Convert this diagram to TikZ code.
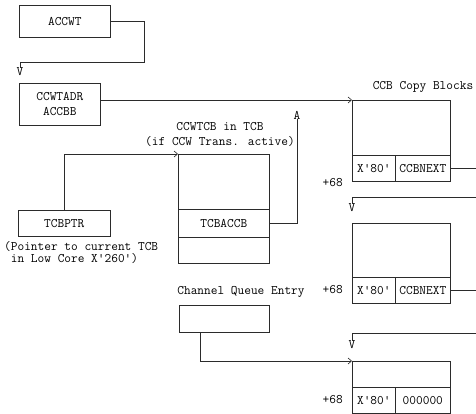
\documentclass[tikz,border=0pt]{standalone}
\usepackage{tikz}
\usetikzlibrary{arrows.meta}
\definecolor{tinta}{HTML}{2B2B2B}
\tikzset{
  every picture/.style={font=\ttfamily\fontsize{13}{15}\selectfont, >={Straight Barb[length=3.5pt,width=6pt]}},
  caja/.style={draw=tinta, line width=0.6pt, inner sep=0pt, anchor=north west, text=black, align=center},
  etiq/.style={inner sep=0pt, text=black},
  punta/.style={inner sep=0pt, text=black},
  linea/.style={draw=tinta, line width=0.6pt},
  flecha/.style={linea, ->},
}
\begin{document}
\begin{tikzpicture}[x=1pt, y=-1pt]
  \useasboundingbox[fill=white] (0,0) rectangle (476,414);
  % ACCWT y CCWTADR
  \node[caja, minimum width=91, minimum height=32] (accwt) at (19,5) {ACCWT};
  \node[punta] (vA) at (20,72) {V};
  \coordinate (accwtr) at (144,62);
  \node[caja, minimum width=81, minimum height=42] (ccwtadr) at (19,83) {CCWTADR\\ACCBB};
  % TCB
  \node[etiq, align=center] (tcbtit) at (220,134) {CCWTCB in TCB\\(if CCW Trans. active)};
  \node[caja, minimum width=91, minimum height=55] (tcbtop) at (178,154) {};
  \node[caja, minimum width=91, minimum height=28] (tcbaccb) at (178,209) {TCBACCB};
  \node[caja, minimum width=91, minimum height=26] (tcbbot) at (178,237) {};
  \node[punta] (aA) at (297,115) {A};
  \node[caja, minimum width=92, minimum height=26] (tcbptr) at (18,210) {TCBPTR};
  \node[etiq, anchor=north west, align=left] (nota) at (4,241) {(Pointer to current TCB\\[-3pt]~in Low Core X'260')};
  % cola de canal
  \node[etiq] (cqetit) at (241,292) {Channel Queue Entry};
  \node[caja, minimum width=90, minimum height=27] (cqe) at (179,305) {};
  % bloques CCB
  \node[etiq] (ccbtit) at (423,87) {CCB Copy Blocks};
  \node[caja, minimum width=98, minimum height=55] (ccbtopA) at (352,100) {};
  \node[caja, minimum width=43, minimum height=26] (x80A) at (352,155) {X'80'};
  \node[caja, minimum width=55, minimum height=26] (ccbnextA) at (395,155) {CCBNEXT};
  \node[etiq, anchor=east] (offA) at (343,183) {+68};
  \node[punta] (vB) at (352,208) {V};
  \node[caja, minimum width=98, minimum height=54] (ccbtopB) at (352,223) {};
  \node[caja, minimum width=43, minimum height=26] (x80B) at (352,277) {X'80'};
  \node[caja, minimum width=55, minimum height=26] (ccbnextB) at (395,277) {CCBNEXT};
  \node[etiq, anchor=east] (offB) at (343,290) {+68};
  \node[punta] (vC) at (352,345) {V};
  \node[caja, minimum width=98, minimum height=26] (ccbtopC) at (352,361) {};
  \node[caja, minimum width=43, minimum height=26] (x80C) at (352,387) {X'80'};
  \node[caja, minimum width=55, minimum height=26] (zeroC) at (395,387) {000000};
  \node[etiq, anchor=east] (offC) at (343,400) {+68};
  \coordinate (retA) at (476,197);
  \coordinate (retB) at (476,333);
  % conexiones
  \draw[linea] (accwt.east) -| (accwtr) -- (vA.north |- accwtr) -- (vA.north);
  \draw[flecha] (ccwtadr.east |- ccbtopA.north west) -- (ccbtopA.north west);
  \draw[linea] (tcbaccb.east) -| (aA.south);
  \draw[flecha] (tcbptr.north) |- (tcbtop.north west);
  \draw[flecha] ([xshift=-24]cqe.south) |- (ccbtopC.north west);
  \draw[linea] (ccbnextA.east) -- (ccbnextA.east -| retA);
  \draw[linea] (retA) -| (vB.north);
  \draw[linea] (ccbnextB.east) -- (ccbnextB.east -| retB);
  \draw[linea] (retB) -| (vC.north);
\end{tikzpicture}
\end{document}
